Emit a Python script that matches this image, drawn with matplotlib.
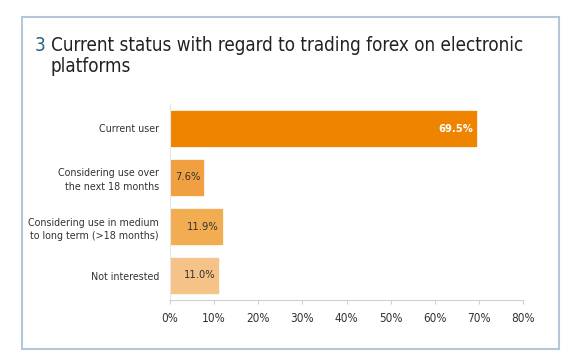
import matplotlib.pyplot as plt
from matplotlib.patches import Rectangle

categories = ["Current user",
              "Considering use over\nthe next 18 months",
              "Considering use in medium\nto long term (>18 months)",
              "Not interested"]
values = [69.5, 7.6, 11.9, 11.0]
colors = ["#ee8400", "#f0a040", "#f2ac52", "#f5c287"]
label_colors = ["white", "#333333", "#333333", "#333333"]
xticks = [0, 10, 20, 30, 40, 50, 60, 70, 80]

plt.rcParams['font.family'] = ['DejaVu Sans']
plt.rcParams['font.stretch'] = 'condensed'

fig = plt.figure(figsize=(5.8, 3.58), dpi=100)

# frame around the whole chart
fig.patches.append(Rectangle((22 / 580, 1 - 349 / 358), (559 - 22) / 580, (349 - 17) / 358,
                             transform=fig.transFigure, fill=False,
                             edgecolor="#b4c6d8", linewidth=1.5))

fig.text(35 / 580, 1 - 51 / 358, "3", color="#2a6183", fontsize=13.5,
         va="baseline", stretch="condensed")
fig.text(51 / 580, 1 - 51 / 358, "Current status with regard to trading forex on electronic",
         color="#222222", fontsize=13.5, va="baseline", stretch="condensed")
fig.text(51 / 580, 1 - 72 / 358, "platforms",
         color="#222222", fontsize=13.5, va="baseline", stretch="condensed")

ax = fig.add_axes([170 / 580, 1 - 300 / 358, (523 - 170) / 580, 196 / 358])
y = range(len(categories))
ax.barh(y, values, height=0.76, color=colors, edgecolor="white", linewidth=0.5)
ax.set_ylim(3.5, -0.5)
ax.set_xlim(0, 80)
ax.set_yticks(list(y))
ax.set_yticklabels(categories, fontsize=7.7, color="#333333", linespacing=1.45)
ax.set_xticks(xticks)
ax.set_xticklabels([f"{t}%" for t in xticks], fontsize=8.5, color="#333333")
ax.tick_params(axis="y", length=0, pad=8)
ax.tick_params(axis="x", length=3, color="#d0d0d0", pad=6)

for s in ["top", "right"]:
    ax.spines[s].set_visible(False)
ax.spines["left"].set_color("#e6e6e6")
ax.spines["bottom"].set_color("#d0d0d0")

for i, v in enumerate(values):
    ax.annotate(f"{v:.1f}%", (v, i), xytext=(-2.5, 0), textcoords="offset points",
                ha="right", va="center", fontsize=8, color=label_colors[i],
                fontweight="bold" if i == 0 else "normal")

fig.savefig("out.png", dpi=100)
